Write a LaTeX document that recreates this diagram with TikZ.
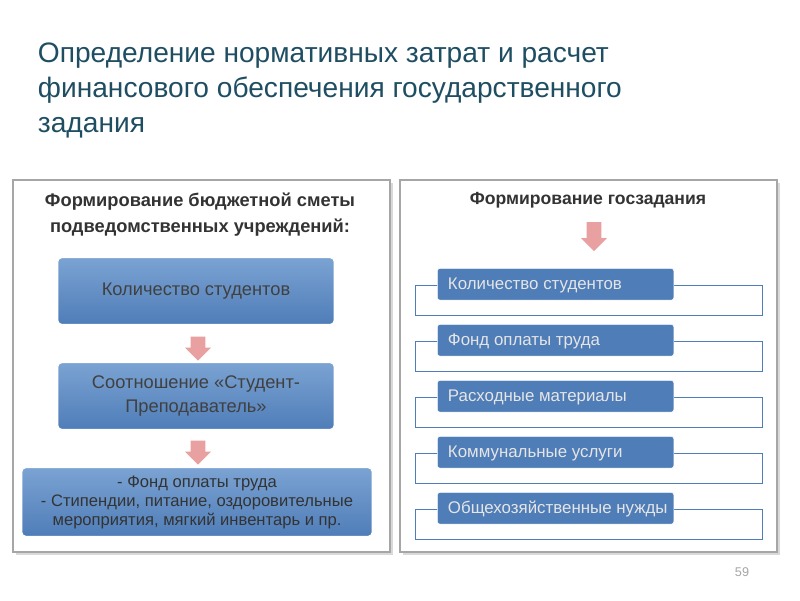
\documentclass[tikz,border=0pt]{standalone}
\usepackage{fontspec}
\setmainfont{Liberation Sans}
\usetikzlibrary{shapes.arrows}
\definecolor{titlecol}{HTML}{1F4E63}
\definecolor{boxtop}{HTML}{7BA3D3}
\definecolor{boxbot}{HTML}{4F7DB8}
\definecolor{pinkarr}{HTML}{E8A0A0}
\begin{document}
\begin{tikzpicture}[x=0.025cm,y=-0.025cm]
	\tikzset{
		frame/.style={draw=gray!70, line width=0.8pt, fill=white},
		bluebox/.style={rounded corners=3pt, top color=boxtop, bottom color=boxbot, draw=white, line width=0.8pt},
		itembox/.style={rounded corners=2pt, fill=boxbot, draw=white},
		outline/.style={draw=boxbot, line width=0.6pt, fill=white},
		downarr/.style={single arrow, shape border rotate=270, fill=pinkarr, inner sep=5pt, single arrow head extend=4pt}
	}
	\useasboundingbox (0,0) rectangle (800,600);
	\fill[white] (0,0) rectangle (800,600);
	
	% title
	\node[anchor=north west, align=left, text=titlecol, font=\fontsize{20}{25}\selectfont] (title) at (33,38)
		{Определение нормативных затрат и расчет\\финансового обеспечения государственного\\задания};
	
	% frames
	\fill[gray!30] (16,183) rectangle (393,555);
	\fill[gray!30] (403,183) rectangle (780,555);
	\draw[frame] (13,180) rectangle (390,552);
	\draw[frame] (400,180) rectangle (777,552);
	
	% left column
	\node[align=center, font=\bfseries\fontsize{13}{18.5}\selectfont, text=black!80] (lhead) at (200,215)
		{Формирование бюджетной сметы\\подведомственных учреждений:};
	\node[bluebox, minimum width=277*0.71pt, minimum height=67*0.71pt, text=black!75, font=\fontsize{13}{16}\selectfont] (count) at (196,291) {Количество студентов};
	\node[downarr, minimum height=24*0.71pt] (a1) at (198,345) {};
	\node[bluebox, minimum width=277*0.71pt, minimum height=67*0.71pt, align=center, text=black!75, font=\fontsize{13}{17}\selectfont] (ratio) at (196,396) {Соотношение «Студент-\\Преподаватель»};
	\node[downarr, minimum height=24*0.71pt] (a2) at (198,449) {};
	\node[bluebox, minimum width=351*0.71pt, minimum height=69*0.71pt, align=center, text=black!80, font=\fontsize{11.8}{13.5}\selectfont] (fund) at (197,502)
		{- Фонд оплаты труда\\- Стипендии, питание, оздоровительные\\мероприятия, мягкий инвентарь и пр.};
	
	% right column
	\node[font=\bfseries\fontsize{12.5}{15}\selectfont, text=black!80] (rhead) at (588,200) {Формирование госзадания};
	\node[downarr, minimum height=29*0.71pt] (a3) at (594,233) {};
	\foreach \y/\txt/\nm in {268/Количество студентов/i1, 324/Фонд оплаты труда/i2, 380/Расходные материалы/i3, 436/Коммунальные услуги/i4, 492/Общехозяйственные нужды/i5}{
		\draw[outline] (415,\y+17) rectangle (762,\y+47);
		\node[itembox, anchor=north west, minimum width=237*0.71pt, minimum height=32*0.71pt] (\nm) at (437,\y) {};
		\node[anchor=west, text=white!90!black, font=\fontsize{12}{14}\selectfont] at (443,\y+17) {\txt};
	}
	
	\node[text=gray!70, font=\fontsize{9}{11}\selectfont] (page) at (742,572) {59};
\end{tikzpicture}
\end{document}
